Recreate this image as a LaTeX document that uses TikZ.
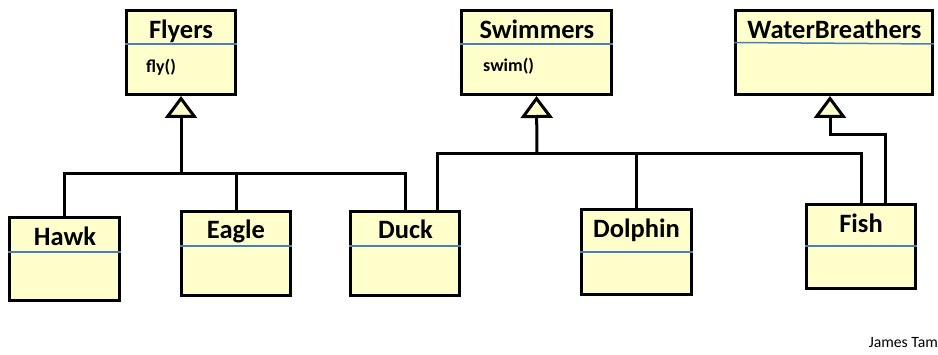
\documentclass[tikz,border=0pt]{standalone}
\usepackage{fontspec}
\setmainfont{Carlito}
\usetikzlibrary{arrows.meta}
\definecolor{umlfill}{HTML}{FFFFCC}
\definecolor{umlrule}{HTML}{4A7EBB}
\tikzset{
  cls/.style={draw=black, fill=umlfill, line width=3pt, inner sep=0pt, rectangle},
  rulebar/.style={draw=umlrule, line width=1.5pt},
  title/.style={anchor=base, inner sep=0pt, font=\fontsize{26.5}{31}\selectfont\bfseries},
  method/.style={anchor=base west, inner sep=0pt, font=\fontsize{18}{21}\selectfont\bfseries},
  link/.style={draw=black, line width=3pt},
  inh/.style={link, -{Triangle[length=22pt, width=32pt, fill=umlfill]}},
}
\begin{document}
\begin{tikzpicture}[x=1pt, y=-1pt]
\useasboundingbox (0,0) rectangle (938,355);

% class boxes
\node[cls, minimum width=109, minimum height=84] (flyers)   at (181,52.5) {};
\node[cls, minimum width=150, minimum height=84] (swimmers) at (536.5,52.5) {};
\node[cls, minimum width=197, minimum height=84] (water)    at (834,52.5) {};
\node[cls, minimum width=110, minimum height=83] (hawk)     at (64.5,259) {};
\node[cls, minimum width=109, minimum height=84] (eagle)    at (236,253.5) {};
\node[cls, minimum width=109, minimum height=84] (duck)     at (405,253.5) {};
\node[cls, minimum width=110, minimum height=85] (dolphin)  at (636.5,252) {};
\node[cls, minimum width=109, minimum height=84] (fish)     at (861,246.5) {};

% compartment separators
\draw[rulebar] (flyers.west |- 0,44)   -- (flyers.east |- 0,44);
\draw[rulebar] (swimmers.west |- 0,44) -- (swimmers.east |- 0,44);
\draw[rulebar] (water.west |- 0,42.5)  -- (water.east |- 0,44);
\draw[rulebar] (hawk.west |- 0,252)    -- (hawk.east |- 0,252);
\draw[rulebar] (eagle.west |- 0,246)   -- (eagle.east |- 0,246);
\draw[rulebar] (duck.west |- 0,246)    -- (duck.east |- 0,246);
\draw[rulebar] (dolphin.west |- 0,252) -- (dolphin.east |- 0,252);
\draw[rulebar] (fish.west |- 0,246)    -- (fish.east |- 0,246);

% class names and operations
\node[title] (flyers-t)   at (181,39)   {Flyers};
\node[method] (flyers-m)  at (146,73)   {fly()};
\node[title] (swimmers-t) at (537,39)   {Swimmers};
\node[method] (swimmers-m) at (483,72)  {swim()};
\node[title] (water-t)    at (834.5,39) {WaterBreathers};
\node[title] (hawk-t)     at (65,246)   {Hawk};
\node[title] (eagle-t)    at (236,239)  {Eagle};
\node[title] (duck-t)     at (405.5,239) {Duck};
\node[title] (dolphin-t)  at (636.5,238) {Dolphin};
\node[title] (fish-t)     at (861,233)  {Fish};

% generalisation junctions
\coordinate (fj) at (181,174);
\coordinate (sj) at (537,154);
\coordinate (wj) at (830,135);
\coordinate (duckup) at (437,0);
\coordinate (fishup) at (885,0);

% Flyers hierarchy
\draw[link] (hawk) |- (fj);
\draw[link] (eagle) |- (fj);
\draw[link] (duck) |- (fj);
\draw[inh] (fj) -- (flyers.south);

% Swimmers hierarchy
\draw[link] (duck.north -| duckup) |- (sj);
\draw[link] (dolphin) |- (sj);
\draw[link] (fish) |- (sj);
\draw[inh] (sj) -- (swimmers.south);

% WaterBreathers hierarchy
\draw[inh] (fish.north -| fishup) |- (wj) -- (wj |- water.south);

% author note
\node[anchor=base east, inner sep=0pt, font=\fontsize{15.7}{18}\selectfont] (author) at (938,348) {James Tam};
\end{tikzpicture}
\end{document}
